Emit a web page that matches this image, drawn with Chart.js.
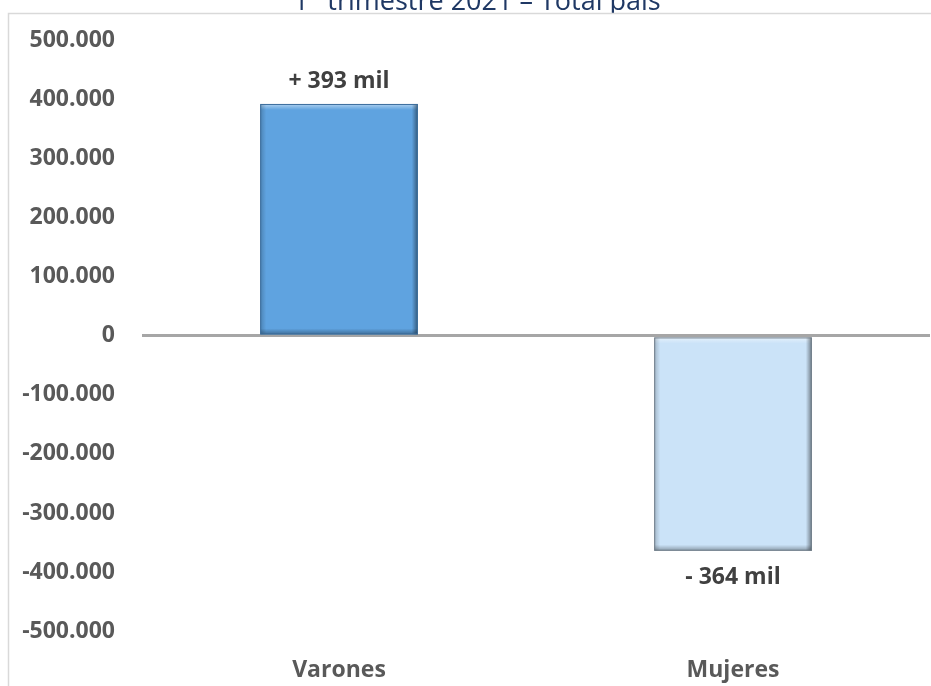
<!DOCTYPE html>
<html lang="es">
<head>
<meta charset="UTF-8">
<title>1° trimestre 2021 – Total país</title>
<script src="https://cdn.jsdelivr.net/npm/chart.js"></script>
<style>
  html, body { margin: 0; padding: 0; background: #ffffff; }
  #wrap { position: relative; width: 931px; height: 686px; }
</style>
</head>
<body>
<div id="wrap"><canvas id="grafico" width="931" height="686"></canvas></div>
<script>
// Variación por sexo
const categorias = ['Varones', 'Mujeres'];
const variacion = [393000, -364000];
const coloresBarra = ['#5fa3e0', '#cbe3f8'];
const coloresBorde = ['#3b6d9c', '#6f7c88'];
const titulo = '1° trimestre 2021 – Total país';

const fuente = '"Open Sans", Lato, sans-serif';

// 500000 -> "500.000"
function miles(v) {
  const s = Math.abs(v).toString().replace(/\B(?=(\d{3})+(?!\d))/g, '.');
  return (v < 0 ? '-' : '') + s;
}

// título (recortado arriba) y marco del gráfico
const marco = {
  id: 'marco',
  beforeDraw(chart) {
    const ctx = chart.ctx;
    ctx.save();
    ctx.fillStyle = '#1f3864';
    ctx.font = '27px ' + fuente;
    ctx.textAlign = 'center';
    ctx.textBaseline = 'alphabetic';
    ctx.fillText(titulo, 477, 10);
    ctx.fillStyle = '#ffffff';
    ctx.fillRect(8, 13, chart.width, chart.height);
    ctx.strokeStyle = '#d9d9d9';
    ctx.lineWidth = 1.5;
    ctx.beginPath();
    ctx.moveTo(8.5, chart.height + 2);
    ctx.lineTo(8.5, 13.5);
    ctx.lineTo(chart.width + 2, 13.5);
    ctx.stroke();
    ctx.restore();
  }
};

// efecto biselado y etiquetas de valor
const bisel = {
  id: 'bisel',
  afterDatasetsDraw(chart) {
    const ctx = chart.ctx;
    const meta = chart.getDatasetMeta(0);
    meta.data.forEach((bar, i) => {
      const p = bar.getProps(['x', 'y', 'base', 'width'], true);
      const x0 = p.x - p.width / 2, x1 = p.x + p.width / 2;
      const y0 = Math.min(p.y, p.base), y1 = Math.max(p.y, p.base);
      const b = 6;
      ctx.save();
      // luz arriba
      let g = ctx.createLinearGradient(0, y0, 0, y0 + b);
      g.addColorStop(0, 'rgba(255,255,255,0.5)');
      g.addColorStop(1, 'rgba(255,255,255,0)');
      ctx.fillStyle = g;
      ctx.fillRect(x0, y0, x1 - x0, b);
      // sombra izquierda
      g = ctx.createLinearGradient(x0, 0, x0 + b, 0);
      g.addColorStop(0, 'rgba(0,0,0,0.2)');
      g.addColorStop(1, 'rgba(0,0,0,0)');
      ctx.fillStyle = g;
      ctx.fillRect(x0, y0, b, y1 - y0);
      // sombra derecha
      g = ctx.createLinearGradient(x1 - b, 0, x1, 0);
      g.addColorStop(0, 'rgba(0,0,0,0)');
      g.addColorStop(1, 'rgba(0,0,0,0.45)');
      ctx.fillStyle = g;
      ctx.fillRect(x1 - b, y0, b, y1 - y0);
      // sombra abajo
      g = ctx.createLinearGradient(0, y1 - b, 0, y1);
      g.addColorStop(0, 'rgba(0,0,0,0)');
      g.addColorStop(1, 'rgba(0,0,0,0.32)');
      ctx.fillStyle = g;
      ctx.fillRect(x0, y1 - b, x1 - x0, b);
      ctx.strokeStyle = coloresBorde[i];
      ctx.lineWidth = 1;
      ctx.strokeRect(x0 + 0.5, y0 + 0.5, x1 - x0 - 1, y1 - y0 - 1);

      // etiqueta
      const v = variacion[i];
      const txt = (v >= 0 ? '+ ' : '- ') + Math.round(Math.abs(v) / 1000) + ' mil';
      ctx.fillStyle = '#404040';
      ctx.font = 'bold 23px ' + fuente;
      ctx.textAlign = 'center';
      ctx.textBaseline = 'middle';
      ctx.fillText(txt, p.x, v >= 0 ? p.y - 22 : p.y + 27);
      ctx.restore();
    });
  }
};

new Chart(document.getElementById('grafico'), {
  type: 'bar',
  data: {
    labels: categorias,
    datasets: [{
      data: variacion,
      backgroundColor: coloresBarra,
      borderWidth: 0,
      barPercentage: 0.4,
      categoryPercentage: 1
    }]
  },
  options: {
    responsive: false,
    animation: false,
    events: [],
    layout: { padding: { top: 39, right: 1, bottom: 0, left: 0 } },
    plugins: {
      legend: { display: false },
      tooltip: { enabled: false }
    },
    scales: {
      y: {
        min: -500000,
        max: 500000,
        afterFit(s) { s.width = 142; },
        ticks: {
          stepSize: 100000,
          padding: 27,
          color: '#595959',
          font: { family: fuente, size: 23, weight: 'bold' },
          callback: v => miles(v)
        },
        grid: {
          drawTicks: false,
          color: c => c.tick && c.tick.value === 0 ? '#a6a6a6' : 'rgba(0,0,0,0)',
          lineWidth: c => c.tick && c.tick.value === 0 ? 3 : 0
        },
        border: { display: false }
      },
      x: {
        afterFit(s) { s.height = 55; },
        ticks: {
          padding: 26,
          color: '#595959',
          font: { family: fuente, size: 23, weight: 'bold' }
        },
        grid: { display: false, drawTicks: false },
        border: { display: false }
      }
    }
  },
  plugins: [marco, bisel]
});
</script>
</body>
</html>
